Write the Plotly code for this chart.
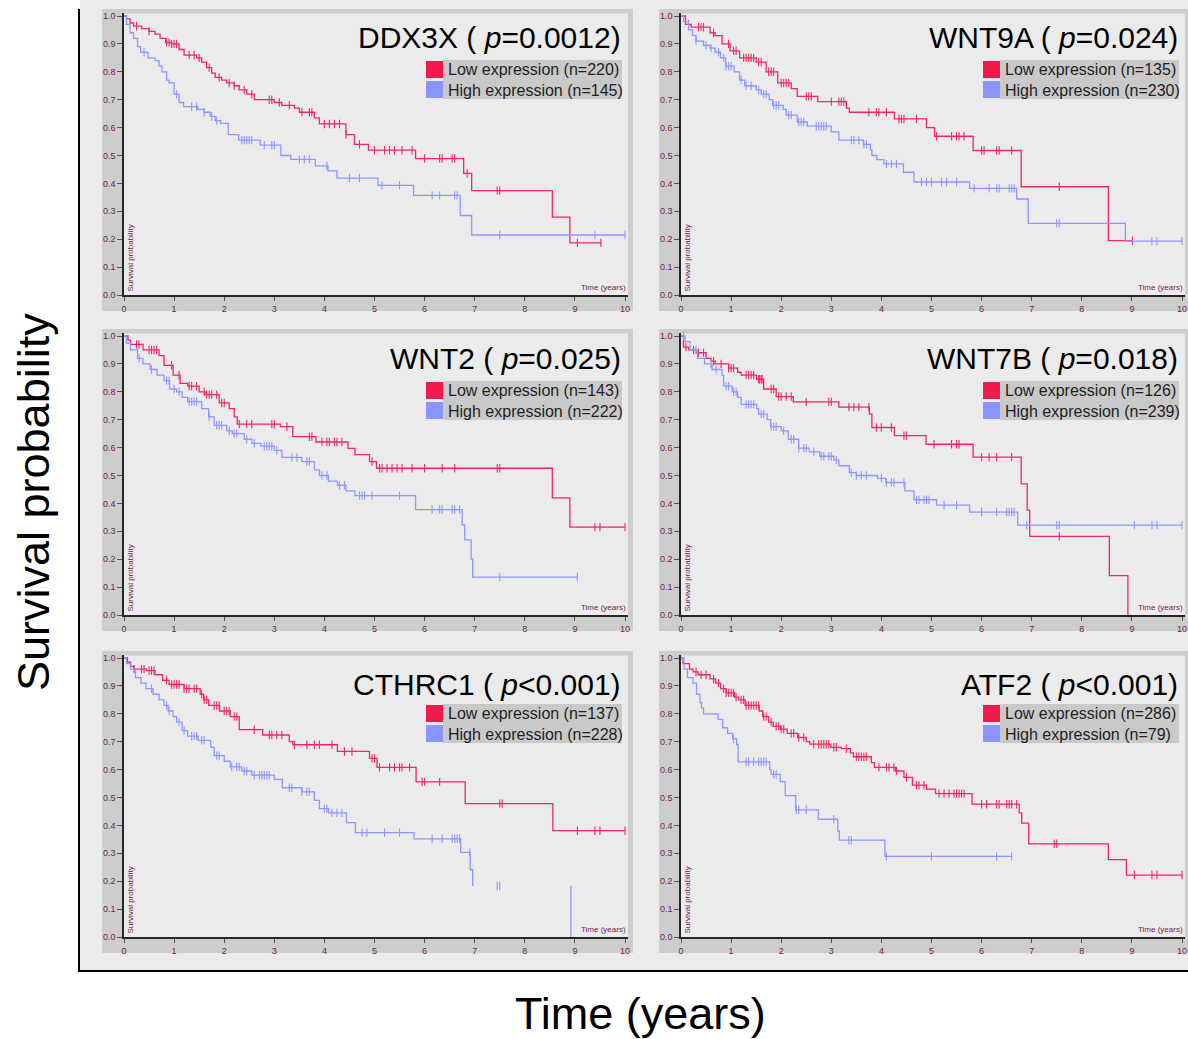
import plotly.graph_objects as go

W, H = 1188, 1039

# ---------------- data ----------------
genes = ["DDX3X", "WNT9A", "WNT2", "WNT7B", "CTHRC1", "ATF2"]
pvals = ["=0.0012", "=0.024", "=0.025", "=0.018", "&lt;0.001", "&lt;0.001"]
n_low = [220, 135, 143, 126, 137, 286]
n_high = [145, 230, 222, 239, 228, 79]

ddx3x_low_t = [0.05,0.12,0.19,0.35,0.5,0.62,0.72,0.83,0.95,1.1,1.2,1.45,1.55,1.65,1.75,1.82,1.95,2.05,2.2,2.3,2.45,2.6,3.0,3.15,3.4,3.5,3.8,3.9,4.43,4.6,4.88,5.82,6.78,6.94,8.55,8.9]
ddx3x_low_s = [0.99,0.975,0.964,0.955,0.945,0.935,0.92,0.905,0.9,0.88,0.86,0.85,0.835,0.815,0.795,0.78,0.77,0.76,0.75,0.735,0.72,0.70,0.69,0.68,0.67,0.655,0.635,0.613,0.575,0.54,0.519,0.489,0.436,0.374,0.279,0.187]
ddx3x_low_end = 9.52
ddx3x_low_c = [0.25,0.5,0.85,0.9,0.95,1.0,1.05,1.3,1.4,1.5,1.7,1.9,2.1,2.2,2.4,2.55,2.9,2.95,3.1,3.3,3.55,3.7,3.75,4.0,4.1,4.2,4.3,4.43,4.7,5.0,5.2,5.3,5.4,5.55,5.75,6.0,6.3,6.35,6.55,6.6,6.85,7.45,7.5,9.05,9.52]

ddx3x_high_t = [0.05,0.12,0.19,0.27,0.33,0.48,0.62,0.7,0.76,0.85,0.9,1.0,1.1,1.19,1.47,1.6,1.72,1.82,1.93,2.08,2.29,2.72,3.13,3.33,3.82,4.07,4.25,5.07,5.78,6.71,6.94]
ddx3x_high_s = [0.97,0.94,0.92,0.89,0.87,0.85,0.84,0.82,0.80,0.77,0.76,0.72,0.69,0.675,0.665,0.655,0.64,0.625,0.615,0.575,0.555,0.537,0.50,0.486,0.463,0.445,0.419,0.393,0.357,0.285,0.215]
ddx3x_high_end = 10.0
ddx3x_high_c = [0.4,1.05,1.35,1.45,1.6,1.75,1.85,2.35,2.4,2.45,2.5,2.55,2.8,2.95,3.0,3.5,3.6,3.7,4.05,4.5,4.7,5.15,5.5,6.15,6.3,6.6,6.65,7.5,9.4,10.0]

wnt9a_low_t = [0.09,0.2,0.58,0.68,0.82,0.98,1.17,1.5,1.7,1.93,2.2,2.32,2.73,3.3,3.36,4.26,4.9,5.06,5.83,6.79,8.53]
wnt9a_low_s = [0.97,0.96,0.94,0.93,0.90,0.875,0.85,0.835,0.80,0.76,0.74,0.712,0.693,0.67,0.655,0.631,0.60,0.569,0.518,0.388,0.195]
wnt9a_low_end = 9.01
wnt9a_low_c = [0.15,0.35,0.4,0.45,0.65,0.95,1.05,1.1,1.25,1.3,1.35,1.4,1.45,1.55,1.6,1.75,1.8,1.85,2.0,2.05,2.1,2.15,2.5,2.55,2.6,3.0,3.15,3.2,3.25,3.75,3.9,3.95,4.1,4.35,4.4,4.45,4.7,5.1,5.4,5.5,5.55,5.65,6.0,6.05,6.3,6.35,6.6,7.55,9.01]

wnt9a_high_t = [0.05,0.15,0.23,0.3,0.45,0.58,0.68,0.79,0.89,1.06,1.17,1.27,1.5,1.6,1.76,1.83,2.04,2.1,2.32,2.52,3.0,3.15,3.64,3.78,3.81,3.91,4.05,4.44,4.65,5.76,6.7,6.93,8.87]
wnt9a_high_s = [0.98,0.95,0.93,0.91,0.895,0.885,0.87,0.85,0.82,0.80,0.77,0.75,0.735,0.72,0.70,0.68,0.665,0.645,0.62,0.605,0.585,0.555,0.54,0.52,0.50,0.485,0.47,0.44,0.405,0.382,0.344,0.257,0.193]
wnt9a_high_end = 10.0
wnt9a_high_c = [0.3,0.5,0.6,0.75,0.85,0.9,0.95,1.0,1.2,1.3,1.4,1.55,1.65,1.7,1.85,1.9,1.95,2.15,2.2,2.35,2.4,2.45,2.7,2.75,2.8,2.85,2.9,3.4,3.45,3.55,3.65,3.7,4.1,4.2,4.3,4.8,4.9,5.0,5.2,5.3,5.5,5.85,6.15,6.3,6.35,6.55,6.6,6.65,7.5,7.55,9.4,9.5,10.0]

wnt2_low_t = [0.08,0.13,0.38,0.7,0.8,0.98,1.12,1.27,1.5,1.62,1.9,2.1,2.2,2.26,3.12,3.37,3.83,4.47,4.61,4.9,5.04,8.55,8.9]
wnt2_low_s = [0.985,0.97,0.95,0.93,0.895,0.86,0.83,0.82,0.80,0.79,0.76,0.74,0.71,0.684,0.675,0.639,0.62,0.597,0.575,0.55,0.526,0.42,0.315]
wnt2_low_end = 10.0
wnt2_low_c = [0.25,0.3,0.5,0.55,0.6,0.65,0.95,1.1,1.3,1.35,1.45,1.6,1.65,1.7,1.75,1.85,1.95,2.0,2.3,2.45,2.55,2.95,3.0,3.25,3.7,3.75,3.95,4.05,4.1,4.2,4.25,4.35,4.95,5.1,5.15,5.25,5.35,5.45,5.55,5.75,6.0,6.35,6.6,7.45,7.5,9.4,9.5,10.0]

wnt2_high_t = [0.05,0.13,0.27,0.38,0.52,0.66,0.8,0.91,1.05,1.16,1.27,1.55,1.69,1.8,2.05,2.16,2.4,2.55,2.73,3.0,3.15,3.55,3.8,3.9,4.08,4.26,4.43,4.61,5.82,6.75,6.8,6.93,6.96]
wnt2_high_s = [0.975,0.95,0.92,0.90,0.88,0.86,0.84,0.81,0.80,0.78,0.765,0.74,0.71,0.68,0.66,0.65,0.63,0.615,0.605,0.59,0.565,0.55,0.52,0.50,0.48,0.465,0.445,0.428,0.378,0.323,0.269,0.20,0.136]
wnt2_high_end = 9.05
wnt2_high_c = [0.3,0.55,0.85,0.9,1.0,1.1,1.3,1.35,1.4,1.45,1.7,1.85,1.9,1.95,2.1,2.2,2.25,2.45,2.6,2.8,2.85,2.9,2.95,3.05,3.35,3.45,3.65,3.7,3.95,4.05,4.3,4.4,4.7,4.75,4.8,4.95,5.5,6.15,6.3,6.35,6.55,6.6,6.7,7.5,9.05]

wnt7b_low_t = [0.05,0.15,0.3,0.5,0.6,0.68,0.95,1.13,1.2,1.51,1.65,1.9,2.24,3.15,3.76,3.81,4.26,4.89,5.83,6.79,6.91,6.96,8.55,8.92]
wnt7b_low_s = [0.96,0.95,0.94,0.92,0.91,0.90,0.885,0.87,0.86,0.845,0.81,0.783,0.764,0.745,0.72,0.672,0.643,0.612,0.566,0.47,0.376,0.282,0.141,0.0]
wnt7b_low_end = 8.92
wnt7b_low_c = [0.1,0.25,0.35,0.45,0.65,0.8,0.95,1.0,1.05,1.3,1.35,1.4,1.45,1.55,1.57,1.6,1.62,1.8,1.85,1.95,2.0,2.1,2.2,2.5,2.95,3.0,3.35,3.45,3.55,3.75,3.9,4.0,4.2,4.45,4.5,5.05,5.4,5.5,5.55,6.0,6.15,6.3,6.6,7.55]

wnt7b_high_t = [0.08,0.18,0.33,0.47,0.62,0.82,0.85,1.02,1.13,1.2,1.51,1.55,1.72,1.79,2.0,2.14,2.35,2.56,2.77,3.05,3.15,3.36,3.5,3.92,4.09,4.47,4.65,5.1,5.76,6.72]
wnt7b_high_s = [0.98,0.95,0.92,0.90,0.88,0.86,0.82,0.80,0.78,0.755,0.74,0.72,0.70,0.675,0.66,0.63,0.598,0.585,0.569,0.555,0.535,0.51,0.50,0.49,0.475,0.445,0.413,0.394,0.369,0.322]
wnt7b_high_end = 10.0
wnt7b_high_c = [0.05,0.3,0.6,0.7,0.9,0.95,1.05,1.1,1.3,1.35,1.4,1.45,1.6,1.65,1.8,1.85,1.9,2.05,2.2,2.25,2.35,2.45,2.5,2.65,2.8,2.85,2.95,3.0,3.1,3.4,3.5,3.6,3.7,4.0,4.1,4.2,4.25,4.45,4.7,4.75,4.85,4.9,4.95,5.25,5.5,6.0,6.3,6.5,6.55,6.6,6.65,6.9,7.5,7.55,9.05,9.4,9.5,10.0]

cthrc1_low_t = [0.07,0.13,0.2,0.45,0.62,0.77,0.9,1.2,1.52,1.59,1.69,1.91,2.12,2.3,2.77,3.3,3.37,4.26,4.9,5.05,5.83,6.81,8.56]
cthrc1_low_s = [0.985,0.97,0.96,0.955,0.94,0.92,0.905,0.89,0.87,0.85,0.83,0.81,0.79,0.743,0.724,0.70,0.689,0.665,0.64,0.608,0.556,0.478,0.381]
cthrc1_low_end = 10.0
cthrc1_low_c = [0.2,0.35,0.4,0.5,0.55,0.6,0.85,0.95,1.0,1.05,1.1,1.2,1.25,1.3,1.4,1.45,1.55,1.6,1.65,1.8,1.85,1.9,2.0,2.05,2.1,2.2,2.25,2.6,2.9,2.95,3.05,3.15,3.4,3.65,3.8,3.9,4.15,4.4,4.55,4.95,5.0,5.1,5.3,5.4,5.5,5.55,5.7,5.95,6.0,6.3,7.5,7.55,9.05,9.4,9.5,10.0]

cthrc1_high_t = [0.05,0.13,0.23,0.34,0.44,0.58,0.7,0.8,0.88,0.98,1.05,1.16,1.27,1.48,1.73,1.8,2.0,2.12,2.35,2.55,3.0,3.16,3.55,3.8,3.9,4.08,4.44,4.62,5.79,6.72,6.91,6.96,8.92]
cthrc1_high_s = [0.98,0.96,0.93,0.91,0.89,0.87,0.85,0.83,0.81,0.79,0.77,0.74,0.72,0.705,0.68,0.65,0.63,0.61,0.595,0.58,0.565,0.535,0.52,0.49,0.46,0.445,0.41,0.374,0.352,0.303,0.241,0.183,0.0]
cthrc1_high_end = 8.92
cthrc1_high_gap = (6.96, 8.92)   # horizontal segment not visible in the reference
cthrc1_high_c = [0.55,0.85,0.9,1.1,1.2,1.35,1.4,1.45,1.55,1.6,1.85,1.9,2.15,2.25,2.3,2.4,2.45,2.6,2.7,2.75,2.8,2.85,2.9,3.3,3.35,3.55,3.65,3.7,4.0,4.05,4.15,4.25,4.35,4.75,4.85,5.2,5.5,6.15,6.35,6.55,6.6,6.65,6.7,6.9,7.45,7.5]

atf2_low_t = [0.04,0.17,0.24,0.34,0.58,0.69,0.79,0.9,1.07,1.15,1.28,1.56,1.63,1.75,1.84,1.98,2.12,2.33,2.5,2.57,2.99,3.2,3.38,3.44,3.8,3.86,4.28,4.45,4.62,4.9,5.08,5.81,6.75,6.8,6.94,8.53,8.89]
atf2_low_s = [0.98,0.96,0.95,0.94,0.925,0.91,0.89,0.875,0.86,0.85,0.83,0.81,0.79,0.77,0.755,0.745,0.73,0.715,0.70,0.691,0.68,0.675,0.66,0.646,0.625,0.608,0.595,0.572,0.544,0.53,0.514,0.476,0.445,0.408,0.334,0.277,0.222]
atf2_low_end = 10.0
atf2_low_c = [0.3,0.4,0.5,0.65,0.75,0.85,0.9,0.95,1.0,1.05,1.1,1.2,1.25,1.3,1.35,1.4,1.45,1.5,1.55,1.65,1.7,1.8,1.9,1.95,2.0,2.05,2.2,2.25,2.35,2.45,2.65,2.75,2.8,2.85,2.9,2.95,3.05,3.1,3.3,3.5,3.55,3.6,3.65,3.7,3.95,4.1,4.15,4.25,4.3,4.5,4.7,4.75,4.85,5.15,5.25,5.35,5.45,5.5,5.55,5.6,5.65,6.0,6.1,6.3,6.35,6.5,6.55,6.6,6.7,7.45,7.5,9.05,9.4,9.5,10.0]

atf2_high_t = [0.06,0.13,0.24,0.31,0.38,0.41,0.45,0.74,0.83,0.93,1.03,1.11,1.14,1.77,1.8,1.98,2.08,2.29,2.74,3.13,3.16,4.07]
atf2_high_s = [0.96,0.93,0.91,0.87,0.84,0.82,0.80,0.78,0.75,0.73,0.71,0.69,0.628,0.60,0.583,0.557,0.507,0.456,0.422,0.38,0.347,0.289]
atf2_high_end = 6.6
atf2_high_c = [1.05,1.3,1.35,1.45,1.55,1.6,1.65,1.7,1.85,1.9,2.3,2.35,2.5,3.05,3.35,3.4,4.1,5.0,6.3,6.6]

curves = [
    ((ddx3x_low_t, ddx3x_low_s, ddx3x_low_end, ddx3x_low_c, None),
     (ddx3x_high_t, ddx3x_high_s, ddx3x_high_end, ddx3x_high_c, None)),
    ((wnt9a_low_t, wnt9a_low_s, wnt9a_low_end, wnt9a_low_c, None),
     (wnt9a_high_t, wnt9a_high_s, wnt9a_high_end, wnt9a_high_c, None)),
    ((wnt2_low_t, wnt2_low_s, wnt2_low_end, wnt2_low_c, None),
     (wnt2_high_t, wnt2_high_s, wnt2_high_end, wnt2_high_c, None)),
    ((wnt7b_low_t, wnt7b_low_s, wnt7b_low_end, wnt7b_low_c, None),
     (wnt7b_high_t, wnt7b_high_s, wnt7b_high_end, wnt7b_high_c, None)),
    ((cthrc1_low_t, cthrc1_low_s, cthrc1_low_end, cthrc1_low_c, None),
     (cthrc1_high_t, cthrc1_high_s, cthrc1_high_end, cthrc1_high_c, cthrc1_high_gap)),
    ((atf2_low_t, atf2_low_s, atf2_low_end, atf2_low_c, None),
     (atf2_high_t, atf2_high_s, atf2_high_end, atf2_high_c, None)),
]

x_ticks = list(range(0, 11))
y_ticks = [i / 10 for i in range(0, 11)]

# ---------------- styling ----------------
RED_LINE = "#f0285f"
BLUE_LINE = "#8d97ff"
RED_SW = "#f21a4d"
BLUE_SW = "#8a94ff"
TICK_COL = "#6e2450"
FONT = "Liberation Sans, Arial, sans-serif"

col_x0 = [124, 681]
row_top = [16, 336, 658]
row_zero = [295, 615, 937]
title_off = [22, 22, 26]
leg_off = [0, 1, 2]
PX_PER_YEAR = 50.1
XMAX = 10.06
YMAX = 1.01


def fx(px):
    return px / W


def fy(py):
    return 1 - py / H


def step_xy(t, s, end, gap):
    xs, ys = [0.0], [1.0]
    prev = 1.0
    for ti, si in zip(t, s):
        if gap is not None and abs(ti - gap[1]) < 1e-9:
            xs += [None, ti, ti]
            ys += [None, prev, si]
        else:
            xs += [ti, ti]
            ys += [prev, si]
        prev = si
    if xs[-1] < end:
        xs.append(end)
        ys.append(prev)
    return xs, ys


def surv_at(t, s, when):
    v = 1.0
    for ti, si in zip(t, s):
        if ti <= when:
            v = si
    return v


fig = go.Figure()
shapes = []
annots = []

# global background
shapes.append(dict(type="rect", xref="paper", yref="paper", x0=fx(80), x1=1, y0=fy(970), y1=1,
                   fillcolor="#ebebeb", line_width=0, layer="below"))

for k in range(6):
    r, c = divmod(k, 2)
    x0 = col_x0[c]
    top = row_top[r]
    zero = row_zero[r]
    ppy = (zero - top)
    # frame and inner area
    shapes.append(dict(type="rect", xref="paper", yref="paper",
                       x0=fx(x0 - 22), x1=fx(min(x0 + 509, W)), y0=fy(zero + 16), y1=fy(top - 7),
                       fillcolor="#cdcdcd", line_width=0, layer="below"))
    shapes.append(dict(type="rect", xref="paper", yref="paper",
                       x0=fx(x0), x1=fx(x0 + 504), y0=fy(zero), y1=fy(top - 2.5),
                       fillcolor="#ebebeb", line_width=0, layer="below"))

    ax = "" if k == 0 else str(k + 1)
    fig.layout["xaxis" + ax] = dict(
        domain=[fx(x0), fx(x0 + PX_PER_YEAR * XMAX)], range=[0, XMAX], anchor="y" + ax,
        tickvals=x_ticks, ticktext=[str(v) for v in x_ticks], ticks="outside", ticklen=4,
        tickwidth=1, tickcolor="#555555", showline=True, linecolor="#262626", linewidth=1.6,
        showgrid=False, zeroline=False, tickfont=dict(size=9, color=TICK_COL, family=FONT),
        fixedrange=True)
    fig.layout["yaxis" + ax] = dict(
        domain=[fy(zero), fy(top - (YMAX - 1) * ppy)], range=[0, YMAX], anchor="x" + ax,
        tickvals=y_ticks, ticktext=[f"{v:.1f}" for v in y_ticks], ticks="outside", ticklen=5,
        tickwidth=1, tickcolor="#555555", showline=True, linecolor="#262626", linewidth=1.6,
        showgrid=False, zeroline=False, tickfont=dict(size=9, color=TICK_COL, family=FONT),
        fixedrange=True)

    for (t, s, end, cens, gap), col in zip(curves[k], [RED_LINE, BLUE_LINE]):
        xs, ys = step_xy(t, s, end, gap)
        fig.add_trace(go.Scatter(x=xs, y=ys, mode="lines", xaxis="x" + ax, yaxis="y" + ax,
                                 line=dict(color=col, width=1.3), connectgaps=False,
                                 showlegend=False, hoverinfo="skip"))
        cy = [surv_at(t, s, cv) for cv in cens]
        fig.add_trace(go.Scatter(x=cens, y=cy, mode="markers", xaxis="x" + ax, yaxis="y" + ax,
                                 marker=dict(symbol="line-ns", size=6,
                                             line=dict(color=col, width=1.1)),
                                 cliponaxis=False, showlegend=False, hoverinfo="skip"))

    R = x0 + 498
    lo = leg_off[r]
    annots.append(dict(xref="paper", yref="paper", x=fx(R + 1), y=fy(top + title_off[r]),
                       xanchor="right", yanchor="middle", showarrow=False,
                       text=f"{genes[k]} ( <i>p</i>{pvals[k]})",
                       font=dict(size=30, color="#000000", family=FONT)))
    # legend
    shapes.append(dict(type="rect", xref="paper", yref="paper", x0=fx(R - 179), x1=fx(R),
                       y0=fy(top + 83 + lo), y1=fy(top + 44 + lo),
                       fillcolor="#c9c9c9", line_width=0, layer="below"))
    shapes.append(dict(type="rect", xref="paper", yref="paper", x0=fx(R - 196), x1=fx(R - 179),
                       y0=fy(top + 62 + lo), y1=fy(top + 45 + lo),
                       fillcolor=RED_SW, line_width=0, layer="below"))
    shapes.append(dict(type="rect", xref="paper", yref="paper", x0=fx(R - 196), x1=fx(R - 179),
                       y0=fy(top + 82 + lo), y1=fy(top + 65 + lo),
                       fillcolor=BLUE_SW, line_width=0, layer="below"))
    annots.append(dict(xref="paper", yref="paper", x=fx(R - 176), y=fy(top + 53.5 + lo),
                       xanchor="left", yanchor="middle", showarrow=False,
                       text=f"Low expression (n={n_low[k]})",
                       font=dict(size=16, color="#1e1e1e", family=FONT)))
    annots.append(dict(xref="paper", yref="paper", x=fx(R - 176), y=fy(top + 74 + lo),
                       xanchor="left", yanchor="middle", showarrow=False,
                       text=f"High expression (n={n_high[k]})",
                       font=dict(size=16, color="#1e1e1e", family=FONT)))
    # small inner axis labels
    annots.append(dict(xref="paper", yref="paper", x=fx(x0 + 6), y=fy(zero - 1),
                       xanchor="center", yanchor="bottom", showarrow=False, textangle=-90,
                       text="Survival probability",
                       font=dict(size=8, color=TICK_COL, family=FONT)))
    annots.append(dict(xref="paper", yref="paper", x=fx(x0 + 504), y=fy(zero - 1),
                       xanchor="right", yanchor="bottom", showarrow=False,
                       text="Time (years)",
                       font=dict(size=8, color=TICK_COL, family=FONT)))

# outer black axes
shapes.append(dict(type="line", xref="paper", yref="paper", x0=fx(79), x1=fx(79), y0=fy(972), y1=fy(9),
                   line=dict(color="#000000", width=2)))
shapes.append(dict(type="line", xref="paper", yref="paper", x0=fx(78), x1=1, y0=fy(971), y1=fy(971),
                   line=dict(color="#000000", width=2)))

annots.append(dict(xref="paper", yref="paper", x=fx(33), y=fy(502), xanchor="center", yanchor="middle",
                   showarrow=False, textangle=-90, text="Survival probability",
                   font=dict(size=45, color="#000000", family=FONT)))
annots.append(dict(xref="paper", yref="paper", x=fx(640), y=fy(1013), xanchor="center", yanchor="middle",
                   showarrow=False, text="Time (years)",
                   font=dict(size=45, color="#000000", family=FONT)))

fig.update_layout(width=W, height=H, margin=dict(l=0, r=0, t=0, b=0, autoexpand=False),
                  paper_bgcolor="#ffffff", plot_bgcolor="rgba(0,0,0,0)",
                  shapes=shapes, annotations=annots, showlegend=False)

fig.write_html("out.html", config={"displayModeBar": False},
               post_script="document.body.style.margin='0';document.body.style.overflow='hidden';")
